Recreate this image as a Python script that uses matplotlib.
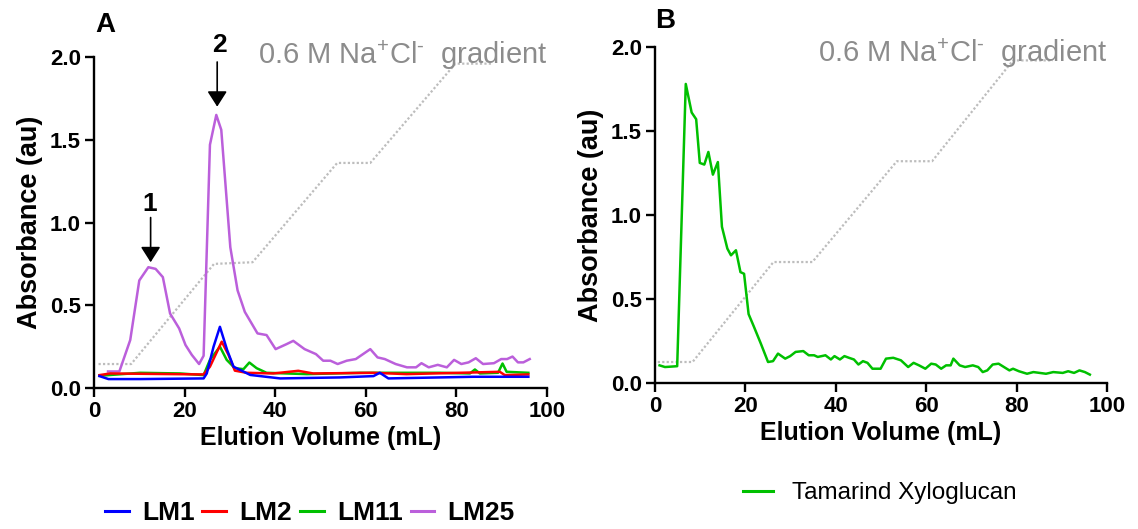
import matplotlib
matplotlib.use("Agg")
import matplotlib.pyplot as plt

plt.rcParams['font.family'] = ['Liberation Sans', 'DejaVu Sans']
plt.rcParams['mathtext.fontset'] = 'custom'
plt.rcParams['mathtext.rm'] = 'Liberation Sans'

# gradient (dotted grey) for both panels
grad_a_x = [1, 8.2, 26.5, 35, 53.7, 61, 79.8, 88]
grad_a_y = [0.145, 0.145, 0.75, 0.76, 1.36, 1.36, 1.96, 1.96]
grad_b_x = [0.6, 8.3, 26.2, 34.8, 53.5, 61.3, 79.2, 88]
grad_b_y = [0.125, 0.125, 0.72, 0.72, 1.32, 1.32, 1.92, 1.92]

# panel A series
lm25_x = [3.1, 5.6, 8.0, 10.0, 12.0, 13.6, 15.2, 16.8, 18.8, 20.2, 21.6, 23.2, 24.2, 25.6, 27.0, 28.1,
          30.1, 31.7, 33.3, 36.1, 38.1, 40.1, 42.5, 44.0, 46.5, 49.0, 50.6, 52.2, 53.8, 55.8, 57.8,
          59.4, 61.0, 62.6, 64.2, 66.6, 69.1, 71.1, 72.3, 73.9, 75.9, 77.9, 79.5, 81.1, 82.7, 84.3,
          85.9, 88.3, 89.9, 91.2, 92.4, 93.6, 94.8, 96.2]
lm25_y = [0.10, 0.10, 0.29, 0.65, 0.73, 0.72, 0.67, 0.45, 0.36, 0.26, 0.20, 0.145, 0.195, 1.47, 1.65, 1.56,
          0.85, 0.59, 0.46, 0.33, 0.32, 0.235, 0.265, 0.285, 0.235, 0.205, 0.165, 0.165, 0.145, 0.165, 0.175,
          0.205, 0.235, 0.185, 0.175, 0.145, 0.125, 0.125, 0.15, 0.125, 0.14, 0.125, 0.17, 0.145, 0.155, 0.18,
          0.145, 0.15, 0.175, 0.175, 0.19, 0.155, 0.155, 0.175]

lm1_x = [1.2, 3.2, 10.2, 24.2, 24.9, 26.4, 27.8, 29.4, 30.8, 34.5, 41.1, 54.3, 61.7, 63.1, 65.0, 83.7, 95.9]
lm1_y = [0.072, 0.054, 0.054, 0.058, 0.088, 0.25, 0.37, 0.229, 0.129, 0.079, 0.058, 0.064, 0.072, 0.092, 0.058, 0.068, 0.068]

lm2_x = [1.2, 3.6, 17.6, 24.2, 25.6, 28.2, 29.7, 31.1, 33.7, 39.6, 45.1, 48.4, 61.7, 69.0, 89.6, 90.7, 95.9]
lm2_y = [0.078, 0.088, 0.084, 0.082, 0.129, 0.28, 0.2, 0.105, 0.092, 0.088, 0.104, 0.088, 0.092, 0.084, 0.098, 0.078, 0.082]

lm11_x = [1.2, 10.2, 19.0, 24.2, 25.6, 27.8, 29.3, 31.1, 33.0, 34.3, 35.9, 38.1, 47.0, 58.8, 76.4, 83.0,
          84.1, 85.2, 89.2, 90.2, 91.1, 95.9]
lm11_y = [0.074, 0.092, 0.088, 0.078, 0.17, 0.25, 0.17, 0.12, 0.114, 0.154, 0.12, 0.092, 0.084, 0.092, 0.092, 0.088,
          0.112, 0.088, 0.092, 0.148, 0.098, 0.092]

# panel B series
tam_x = [1.0, 2.2, 4.9, 6.8, 8.1, 9.1, 9.9, 10.9, 11.8, 12.8, 13.9, 14.8, 16.0, 16.8, 17.9, 18.9, 19.7,
         20.7, 21.8, 23.4, 25.0, 26.1, 27.2, 28.8, 29.9, 31.1, 32.8, 34.0, 35.2, 36.0, 37.7, 38.9, 39.7,
         40.9, 41.9, 42.9, 44.0, 45.0, 46.0, 47.0, 48.1, 49.9, 51.1, 52.7, 54.4, 56.0, 57.2, 58.4, 59.8,
         61.1, 62.1, 63.3, 64.4, 65.4, 66.0, 67.4, 68.6, 70.3, 71.5, 72.5, 73.5, 74.7, 76.0, 77.2, 78.4,
         79.2, 80.5, 82.3, 83.7, 86.5, 88.1, 90.2, 91.4, 92.7, 93.9, 95.1, 96.2]
tam_y = [0.105, 0.095, 0.10, 1.78, 1.61, 1.57, 1.31, 1.30, 1.375, 1.24, 1.315, 0.93, 0.80, 0.76, 0.79, 0.66, 0.65,
         0.41, 0.34, 0.235, 0.125, 0.13, 0.175, 0.145, 0.16, 0.185, 0.19, 0.165, 0.165, 0.155, 0.165, 0.14, 0.16,
         0.14, 0.16, 0.15, 0.14, 0.11, 0.13, 0.12, 0.085, 0.085, 0.145, 0.15, 0.135, 0.095, 0.12, 0.105, 0.085,
         0.115, 0.11, 0.085, 0.105, 0.105, 0.145, 0.105, 0.095, 0.105, 0.095, 0.065, 0.075, 0.11, 0.115, 0.095, 0.075,
         0.085, 0.07, 0.055, 0.065, 0.055, 0.065, 0.06, 0.07, 0.06, 0.075, 0.065, 0.05]

grey_line = '#BDBDBD'
grey_text = '#8C8C8C'
grad_label = r"0.6 M Na$^{\text{+}}$Cl$^{\text{-}}$  gradient"

fig = plt.figure(figsize=(11.38, 5.29), dpi=100)
ax1 = fig.add_axes([0.0826, 0.2665, 0.398, 0.6257])
ax2 = fig.add_axes([0.5756, 0.276, 0.3972, 0.6352])

for ax in (ax1, ax2):
    ax.set_xlim(0, 100)
    ax.set_ylim(0, 2.0)
    ax.set_xticks([0, 20, 40, 60, 80, 100])
    ax.set_yticks([0, 0.5, 1.0, 1.5, 2.0])
    ax.set_yticklabels(['0.0', '0.5', '1.0', '1.5', '2.0'])
    for s in ('top', 'right'):
        ax.spines[s].set_visible(False)
    for s in ('left', 'bottom'):
        ax.spines[s].set_linewidth(1.7)
    ax.tick_params(width=1.7, length=6.5, labelsize=16, pad=3)
    for lab in ax.get_xticklabels() + ax.get_yticklabels():
        lab.set_fontweight('bold')
    ax.set_xlabel('Elution Volume (mL)', fontsize=18, fontweight='bold', labelpad=3)
    ax.set_ylabel('Absorbance (au)', fontsize=19.5, fontweight='bold', labelpad=5)

# panel A
ax1.plot(grad_a_x, grad_a_y, color=grey_line, lw=1.6, ls=(0, (1, 1)), zorder=1, clip_on=False)
ax1.plot(lm25_x, lm25_y, color='#BB5FDB', lw=1.8, zorder=2, label='LM25')
ax1.plot(lm11_x, lm11_y, color='#00C000', lw=1.8, zorder=3, label='LM11')
ax1.plot(lm2_x, lm2_y, color='#FF0000', lw=1.8, zorder=4, label='LM2')
ax1.plot(lm1_x, lm1_y, color='#0000FF', lw=1.8, zorder=5, label='LM1')

ax1.text(27.6, 2.07, '2', fontsize=19, fontweight='bold', ha='center', va='center')
ax1.annotate('', xy=(27.2, 1.70), xytext=(27.2, 1.97),
             arrowprops=dict(arrowstyle='-|>,head_length=0.47,head_width=0.3', color='black',
                             lw=1.2, mutation_scale=20, shrinkA=0, shrinkB=0))
ax1.text(12.4, 1.11, '1', fontsize=19, fontweight='bold', ha='center', va='center')
ax1.annotate('', xy=(12.5, 0.76), xytext=(12.5, 1.03),
             arrowprops=dict(arrowstyle='-|>,head_length=0.47,head_width=0.3', color='black',
                             lw=1.2, mutation_scale=20, shrinkA=0, shrinkB=0))

fig.text(258 / 1138, 1 - 64 / 529, grad_label, color=grey_text, fontsize=21, ha='left', va='baseline')
fig.text(95 / 1138, 1 - 25 / 529, 'A', fontsize=20, fontweight='bold', ha='left', va='center')

h, l = ax1.get_legend_handles_labels()
order = [3, 2, 1, 0]
leg1 = fig.legend([h[i] for i in order], [l[i] for i in order], loc='center left',
                  bbox_to_anchor=(105 / 1138, 1 - 513 / 529), ncol=4, frameon=False,
                  prop=dict(weight='bold', size=19), handlelength=0.9, handletextpad=0.5,
                  columnspacing=0.3, borderpad=0, borderaxespad=0)
for line in leg1.get_lines():
    line.set_linewidth(2.2)

# panel B
ax2.plot(grad_b_x, grad_b_y, color=grey_line, lw=1.6, ls=(0, (1, 1)), zorder=1, clip_on=False)
ax2.plot(tam_x, tam_y, color='#00C000', lw=1.8, zorder=3, label='Tamarind Xyloglucan')

fig.text(818 / 1138, 1 - 62 / 529, grad_label, color=grey_text, fontsize=21, ha='left', va='baseline')
fig.text(655 / 1138, 1 - 21 / 529, 'B', fontsize=20, fontweight='bold', ha='left', va='center')

leg2 = fig.legend(loc='center left', handles=ax2.get_lines()[1:], bbox_to_anchor=(743 / 1138, 1 - 493 / 529),
                  frameon=False, prop=dict(size=17.5), handlelength=1.22, handletextpad=0.78,
                  borderpad=0, borderaxespad=0)
for line in leg2.get_lines():
    line.set_linewidth(2.2)

fig.savefig('out.png', dpi=100)
